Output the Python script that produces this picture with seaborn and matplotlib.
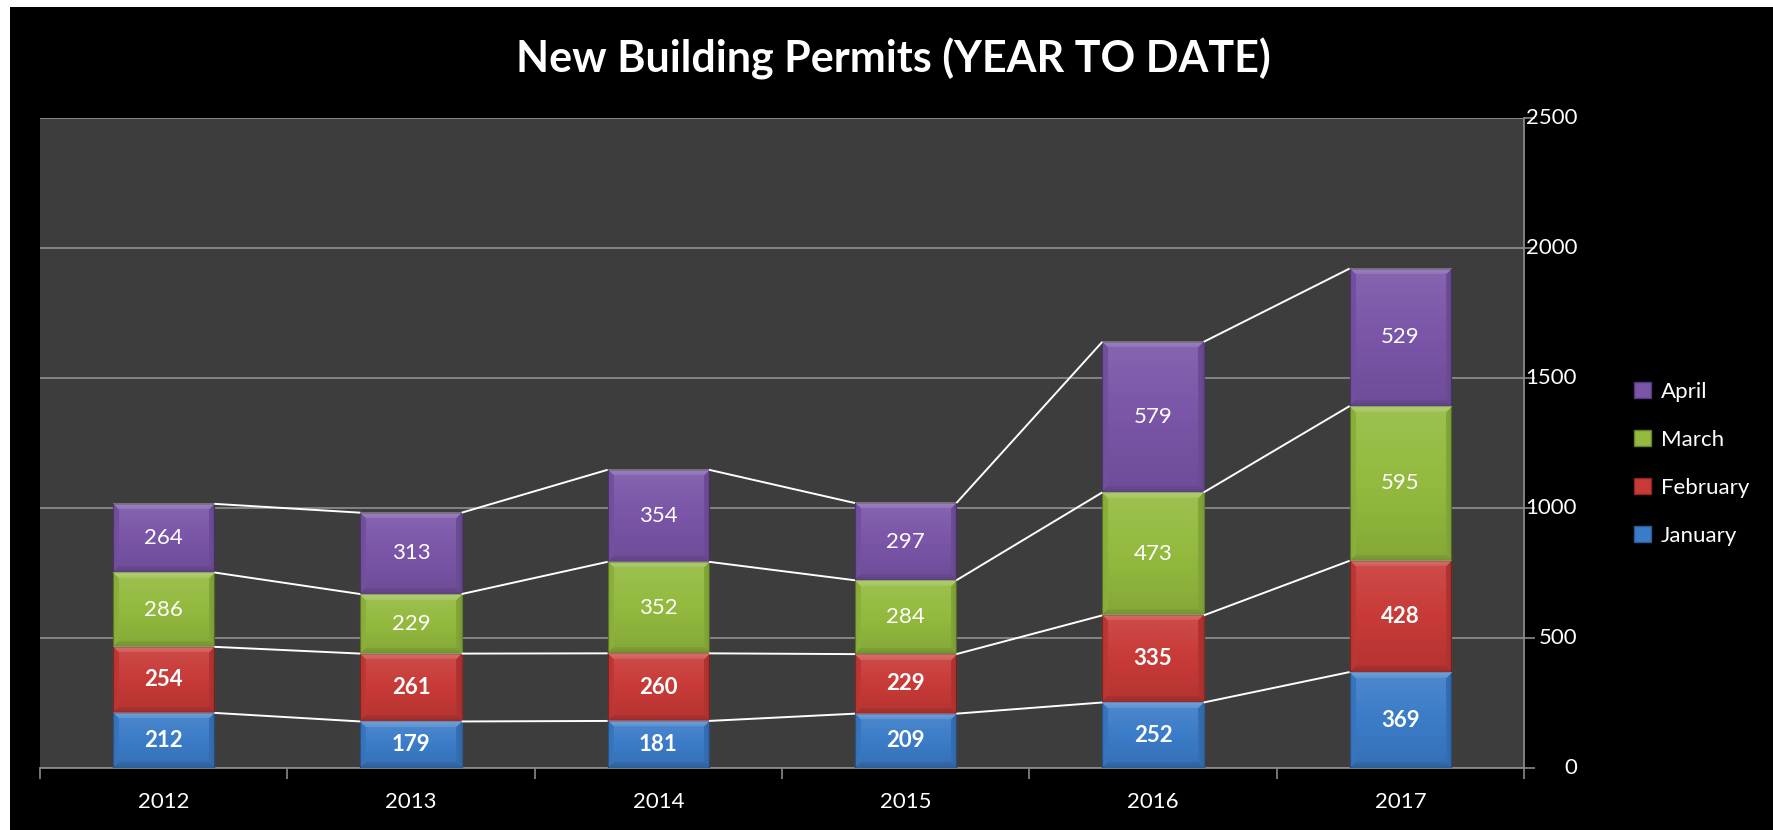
import numpy as np
import pandas as pd
import seaborn as sns
import matplotlib.pyplot as plt
import matplotlib.transforms as mtransforms
from matplotlib.patches import Rectangle, Patch

years = ["2012", "2013", "2014", "2015", "2016", "2017"]
months = ["January", "February", "March", "April"]
january = [212, 179, 181, 209, 252, 369]
february = [254, 261, 260, 229, 335, 428]
march = [286, 229, 352, 284, 473, 595]
april = [264, 313, 354, 297, 579, 529]
y_ticks = [0, 500, 1000, 1500, 2000, 2500]
title = "New Building Permits (YEAR TO DATE)"

colors = {"January": "#3b7cc8", "February": "#c83a37", "March": "#93ba3e", "April": "#7a55a8"}
edges = {"January": "#2c5a94", "February": "#8e2626", "March": "#627f2b", "April": "#533977"}
bold = {"January": True, "February": True, "March": False, "April": False}

series = {"January": january, "February": february, "March": march, "April": april}
df = pd.DataFrame({"year": years, **series})
cum = df[months].cumsum(axis=1)

sns.set_style("dark")
plt.rcParams["font.family"] = ["Lato", "DejaVu Sans"]

W, H = 1773, 830
fig = plt.figure(figsize=(W / 100, H / 100), dpi=100)
fig.patch.set_facecolor("white")
fig.add_artist(Rectangle((10 / W, 0), 1, 1 - 7 / H, transform=fig.transFigure,
                         facecolor="black", edgecolor="none", zorder=0))

ax_left, ax_bot, ax_w, ax_h = 40, H - 768, 1484, 650
ax = fig.add_axes([ax_left / W, ax_bot / H, ax_w / W, ax_h / H])
ax.set_facecolor("#3d3d3d")

bw = 0.41
ymax = 2500
for m in reversed(months):
    sns.barplot(x=df["year"], y=cum[m], color=colors[m], width=bw, ax=ax,
                errorbar=None, edgecolor=edges[m], linewidth=0.8, saturation=1, zorder=3)


def bevel_overlay(wpx, hpx, b=6):
    wpx, hpx = max(int(round(wpx)), 2), max(int(round(hpx)), 2)
    yy, xx = np.mgrid[0:hpx, 0:wpx].astype(float)
    t = yy / (hpx - 1)
    rgba = np.zeros((hpx, wpx, 4))
    light = t < 0.5
    rgba[..., :3] = np.where(light[..., None], 1.0, 0.0)
    rgba[..., 3] = 0.10 * np.abs(1 - 2 * t)
    d = np.stack([yy, hpx - 1 - yy, xx, wpx - 1 - xx])
    edge = d.argmin(axis=0)
    dmin = d.min(axis=0)
    inband = dmin < b
    band_rgb = [1.0, 0.0, 0.0, 0.0]
    band_a = [0.28, 0.22, 0.08, 0.16]
    for k in range(4):
        msk = inband & (edge == k)
        rgba[msk, :3] = band_rgb[k]
        rgba[msk, 3] = band_a[k] * (1 - 0.4 * dmin[msk] / b)
    return rgba


px_per_x = ax_w / len(years)
px_per_y = ax_h / ymax
for m in months:
    for i in range(len(years)):
        val = series[m][i]
        top = cum[m][i]
        img = bevel_overlay(bw * px_per_x, val * px_per_y)
        ax.imshow(img, extent=(i - bw / 2, i + bw / 2, top - val, top), aspect="auto",
                  interpolation="bilinear", zorder=3.5)

# data labels
for m in months:
    for i in range(len(years)):
        val = series[m][i]
        bottom = cum[m][i] - val
        ax.text(i, bottom + val / 2, str(val), ha="center", va="center", color="white",
                fontsize=16, fontweight="bold" if bold[m] else "normal", zorder=5)

# series lines
for m in months:
    for i in range(len(years) - 1):
        ax.plot([i + bw / 2, i + 1 - bw / 2], [cum[m][i], cum[m][i + 1]],
                color="white", lw=1.4, zorder=4, solid_capstyle="butt")

ax.set_xlim(-0.5, len(years) - 0.5)
ax.set_ylim(0, ymax)
ax.set_yticks(y_ticks)
ax.yaxis.tick_right()
ax.tick_params(axis="y", colors="#8a8a8a", length=8, width=1.2,
               labelright=False, labelleft=False, direction="out", right=True, left=False)
# right-aligned value labels of the right-hand axis
ytrans = mtransforms.blended_transform_factory(ax.transAxes, ax.transData)
for v in y_ticks:
    ax.text((1577 - ax_left) / ax_w, v, str(v), transform=ytrans, ha="right", va="center",
            color="white", fontsize=16, clip_on=False)
ax.grid(axis="y", color="#8a8a8a", lw=1.3, zorder=1)
ax.grid(axis="x", visible=False)
ax.set_axisbelow(True)

ax.set_xticks(range(len(years)))
ax.set_xticklabels(years)
ax.set_xticks(np.arange(-0.5, len(years) + 0.5, 1), minor=True)
ax.tick_params(axis="x", which="major", length=0, pad=17, labelcolor="white", labelsize=16)
ax.tick_params(axis="x", which="minor", length=8, width=1.2, color="#8a8a8a", direction="out", bottom=True)
ax.set_xlabel("")
ax.set_ylabel("")
for s in ["top", "left"]:
    ax.spines[s].set_visible(False)
for s in ["bottom", "right"]:
    ax.spines[s].set_visible(True)
    ax.spines[s].set_color("#8a8a8a")
    ax.spines[s].set_linewidth(1.3)

fig.text(893 / W, 1 - 59 / H, title, ha="center", va="center", color="white",
         fontsize=31, fontweight="bold")

handles = [Patch(facecolor=colors[m], edgecolor=edges[m], label=m) for m in reversed(months)]
leg = fig.legend(handles=handles, loc="center left", bbox_to_anchor=(1634 / W, 366 / H),
                 frameon=False, labelcolor="white", fontsize=16, handlelength=0.75,
                 handleheight=0.75, handletextpad=0.45, labelspacing=1.26,
                 borderpad=0, borderaxespad=0)

fig.savefig("out.png", dpi=100, facecolor=fig.get_facecolor())
